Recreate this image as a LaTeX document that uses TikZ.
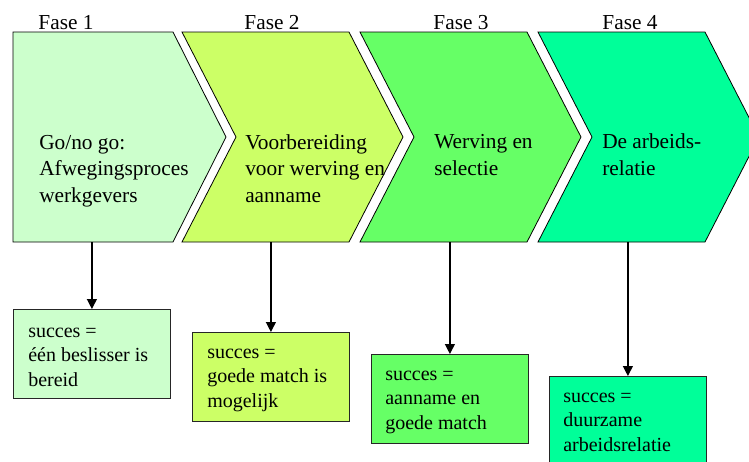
\documentclass[tikz,border=0pt]{standalone}
\usepackage{fontspec}
\setmainfont{Liberation Serif}
\usepackage{tikz}
\usetikzlibrary{arrows.meta}
\definecolor{fase1}{HTML}{CCFFCC}
\definecolor{fase2}{HTML}{CCFF66}
\definecolor{fase3}{HTML}{66FF66}
\definecolor{fase4}{HTML}{00FF99}
\tikzset{
  chevron/.style={draw=black, line width=0.6pt},
  fasetitel/.style={anchor=base, inner sep=0pt, font=\fontsize{16}{19}\selectfont},
  fasetekst/.style={anchor=base west, align=left, inner sep=0pt, font=\fontsize{16}{19.6}\selectfont},
  succesbox/.style={draw=black!85, line width=0.6pt, anchor=north west, inner sep=0pt,
    minimum width=117.75pt, minimum height=66.75pt},
  succestekst/.style={anchor=base west, align=left, inner sep=0pt, font=\fontsize{15}{18.2}\selectfont},
  pijl/.style={-{Triangle[length=7.5pt,width=7.5pt]}, line width=0.9pt}
}

\begin{document}
\begin{tikzpicture}[x=0.75pt, y=-0.75pt]
                \useasboundingbox (0,0) rectangle (749,461);
                \clip (0,0) rectangle (749,461);

                %Chevrons (first one has a flat left side)
                \draw[chevron, fill=fase1] (13,32) -- (173,32) -- (226,137) -- (173,242) -- (13,242) -- cycle;
                \draw[chevron, fill=fase2] (182,32) -- (349,32) -- (403,137) -- (349,242) -- (182,242) -- (236,137) -- cycle;
                \draw[chevron, fill=fase3] (360,32) -- (527,32) -- (581,137) -- (527,242) -- (360,242) -- (414,137) -- cycle;
                \draw[chevron, fill=fase4] (538,32) -- (705,32) -- (759,137) -- (705,242) -- (538,242) -- (592,137) -- cycle;

                %phase titles
                \foreach \x/\n in {66/1, 272/2, 461/3, 630/4}
                    \node[fasetitel] (titel\n) at (\x,29) {Fase \n};

                %text inside the chevrons (anchored at the last line)
                \node[fasetekst] (tekst1) at (39,202) {Go/no go:\\Afwegingsproces\\werkgevers};
                \node[fasetekst] (tekst2) at (245,202) {Voorbereiding\\voor werving en\\aanname};
                \node[fasetekst] (tekst3) at (434,175) {Werving en\\selectie};
                \node[fasetekst] (tekst4) at (602,175) {De arbeids-\\relatie};

                %succes boxes
                \node[succesbox, fill=fase1] (box1) at (13,309) {};
                \node[succesbox, fill=fase2] (box2) at (192,332) {};
                \node[succesbox, fill=fase3] (box3) at (371,354) {};
                \node[succesbox, fill=fase4] (box4) at (549,376) {};

                \node[succestekst] (succes1) at ([shift={(15,77)}]box1.north west) {succes =\\één beslisser is\\bereid};
                \node[succestekst] (succes2) at ([shift={(15,75)}]box2.north west) {succes =\\goede match is\\mogelijk};
                \node[succestekst] (succes3) at ([shift={(14,75)}]box3.north west) {succes =\\aanname en\\goede match};
                \node[succestekst] (succes4) at ([shift={(14,75)}]box4.north west) {succes =\\duurzame\\arbeidsrelatie};

                %arrows from the chevrons down to the boxes
                \foreach \i in {1,...,4}
                    \coordinate (voet\i) at (box\i.north |- 0,242);
                \foreach \i in {1,...,4}
                    \draw[pijl] (voet\i) -- (box\i.north);
\end{tikzpicture}
\end{document}
